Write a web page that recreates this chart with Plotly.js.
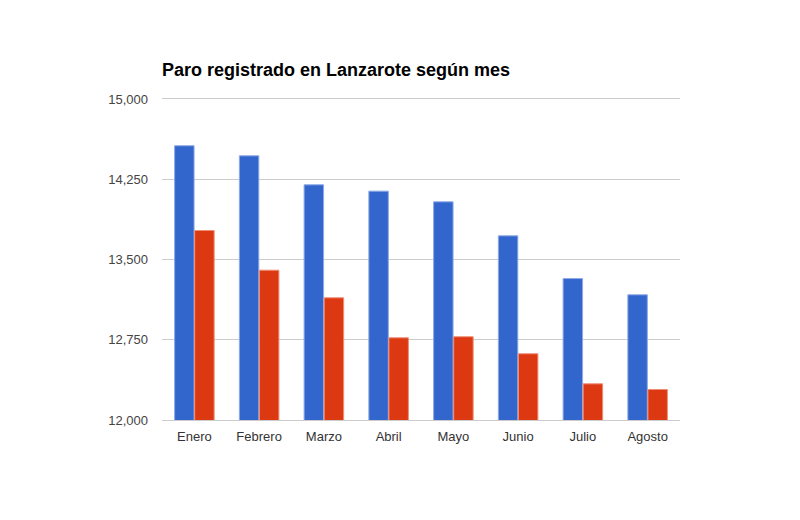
<!DOCTYPE html>
<html>
<head>
<meta charset="utf-8">
<script src="https://cdn.plot.ly/plotly-3.0.1.min.js"></script>
<style>html,body{margin:0;padding:0;background:#fff;}#chart{width:800px;height:520px;}</style>
</head>
<body>
<div id="chart"></div>
<script>
var months = ["Enero", "Febrero", "Marzo", "Abril", "Mayo", "Junio", "Julio", "Agosto"];
var serie1 = [14563, 14469, 14198, 14139, 14039, 13721, 13322, 13170];
var serie2 = [13771, 13400, 13142, 12768, 12778, 12619, 12338, 12285];
var yTicks = [12000, 12750, 13500, 14250, 15000];

var traces = [
  {type: "bar", x: months, y: serie1, name: "Serie 1",
   marker: {color: "#3366cc", line: {color: "#8fa9e6", width: 1}}},
  {type: "bar", x: months, y: serie2, name: "Serie 2",
   marker: {color: "#dc3912", line: {color: "#f08d75", width: 1}}}
];

var layout = {
  width: 800, height: 520,
  margin: {l: 162, r: 120, t: 99, b: 100},
  paper_bgcolor: "#ffffff", plot_bgcolor: "#ffffff",
  font: {family: "Liberation Sans, Arial, sans-serif", size: 13, color: "#444444"},
  title: {text: "<b>Paro registrado en Lanzarote según mes</b>",
          font: {family: "Liberation Sans, Arial, sans-serif", size: 18, color: "#000000"},
          xref: "paper", x: 0, xanchor: "left",
          yref: "container", y: 1 - 70/520, yanchor: "middle"},
  showlegend: false,
  barmode: "group",
  bargap: 0.38,
  bargroupgap: 0.03,
  xaxis: {showgrid: false, showline: true, mirror: true, linecolor: "#cccccc", linewidth: 1,
          ticks: "", zeroline: false, ticklabelstandoff: 4,
          tickfont: {size: 13, color: "#333333"}},
  yaxis: {range: [12000, 15000], tickvals: yTicks, tickformat: ",d",
          showgrid: true, gridcolor: "#cccccc", gridwidth: 1, zeroline: false,
          showline: false, ticks: "", ticklabelstandoff: 13,
          tickfont: {size: 13, color: "#444444"}}
};

Plotly.newPlot("chart", traces, layout, {displayModeBar: false, staticPlot: true});
</script>
</body>
</html>
